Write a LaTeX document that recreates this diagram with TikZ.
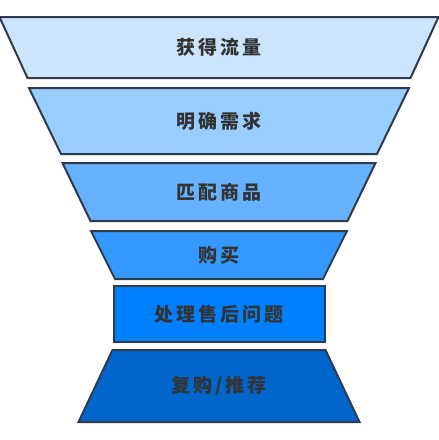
\documentclass[tikz,border=0pt]{standalone}
\usepackage{fontspec}
\newfontfamily\funnelfont{Noto Sans CJK SC}[LetterSpace=16]
\definecolor{funnelA}{HTML}{CCE5FC}
\definecolor{funnelB}{HTML}{99CCFF}
\definecolor{funnelC}{HTML}{66B2FF}
\definecolor{funnelD}{HTML}{3399FF}
\definecolor{funnelE}{HTML}{0080FF}
\definecolor{funnelF}{HTML}{0066CC}
\definecolor{funnelEdge}{HTML}{2F3B4C}
\definecolor{funnelText}{HTML}{333333}
\tikzset{
  funnel diagram/.style={x=1pt, y=-1pt, line width=2pt, line join=miter},
  funnel step/.style={draw=funnelEdge},
  funnel label/.style={font=\funnelfont\bfseries\fontsize{19}{22}\selectfont,
    text=funnelText, inner sep=0pt}
}
% name, top, bottom, top half width, bottom half width, fill, text
\newcommand{\FunnelStep}[7]{%
  \filldraw[funnel step, fill=#6] (219-#4,#2) -- (219+#4,#2)
    -- (219+#5,#3) -- (219-#5,#3) -- cycle;
  \node[funnel label] (#1) at (219,{(#2+#3)/2}) {#7};
}

\begin{document}
\begin{tikzpicture}[funnel diagram]
  \useasboundingbox (0,0) rectangle (439,440);
  \FunnelStep{traffic}{17}{78}{219.5}{191.5}{funnelA}{获得流量}
  \FunnelStep{demand}{88}{154}{190}{158}{funnelB}{明确需求}
  \FunnelStep{match}{163}{221}{156.5}{128.5}{funnelC}{匹配商品}
  \FunnelStep{buy}{231}{279}{128}{104}{funnelD}{购买}
  \FunnelStep{service}{286}{342}{105.5}{105.5}{funnelE}{处理售后问题}
  \FunnelStep{repeat}{350}{422}{106.5}{140.5}{funnelF}{复购/推荐}
\end{tikzpicture}
\end{document}
